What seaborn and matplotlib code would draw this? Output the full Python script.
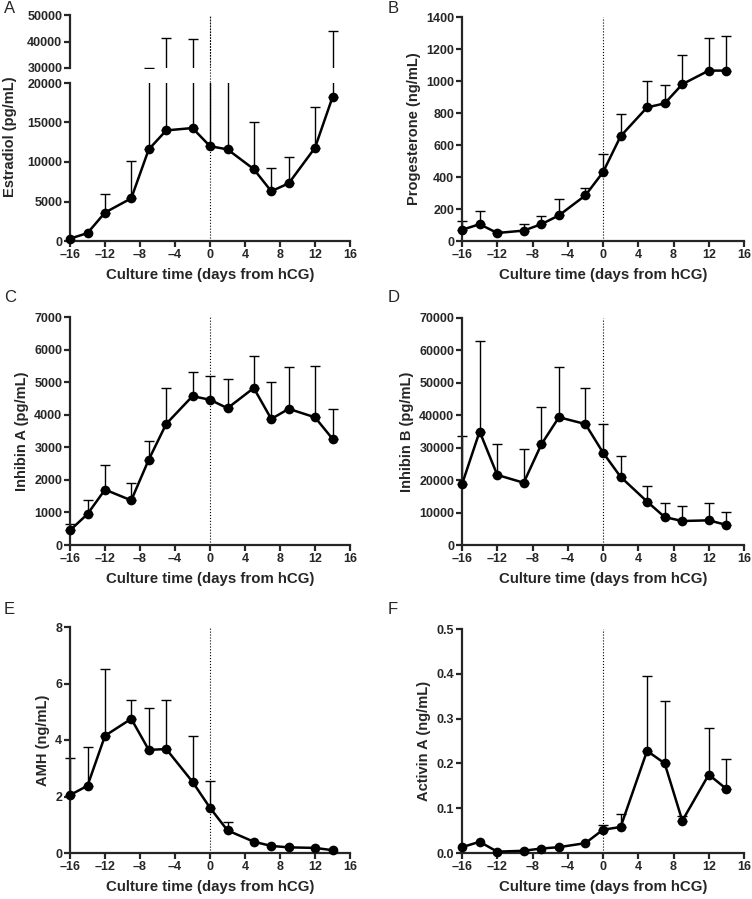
import numpy as np
import matplotlib
matplotlib.use("Agg")
import matplotlib.pyplot as plt
import seaborn as sns

# Culture days relative to hCG
days = [-16, -14, -12, -9, -7, -5, -2, 0, 2, 5, 7, 9, 12, 14]

# Mean values and top of the (upper-only) error bars; nan = no visible bar
estradiol = [300, 1000, 3600, 5400, 11600, 14000, 14300, 12000, 11600, 9100, 6300, 7300, 11800, 18200]
estradiol_top = [np.nan, np.nan, 6000, 10100, 30100, 41500, 41000, 25000, 25000, 15000, 9300, 10600, 17000, 43800]

progesterone = [70, 105, 50, 65, 105, 160, 285, 430, 655, 835, 860, 980, 1065, 1065]
progesterone_top = [125, 185, 65, 105, 155, 260, 330, 545, 795, 1000, 975, 1160, 1270, 1280]

inhibin_a = [450, 950, 1700, 1370, 2620, 3720, 4570, 4460, 4200, 4820, 3870, 4180, 3920, 3260]
inhibin_a_top = [650, 1370, 2470, 1900, 3180, 4830, 5300, 5200, 5100, 5790, 5010, 5480, 5500, 4170]

inhibin_b = [18700, 35000, 21600, 19200, 31000, 39400, 37300, 28500, 21000, 13400, 8600, 7400, 7600, 6200]
inhibin_b_top = [33500, 63000, 31200, 29700, 42700, 54800, 48400, 37400, 27500, 18300, 13100, 12000, 13000, 10200]

amh = [2.05, 2.38, 4.15, 4.75, 3.65, 3.68, 2.52, 1.6, 0.8, 0.4, 0.25, 0.2, 0.18, 0.1]
amh_top = [3.38, 3.76, 6.52, 5.42, 5.13, 5.42, 4.13, 2.55, 1.1, np.nan, np.nan, np.nan, np.nan, np.nan]

activin_a = [0.013, 0.025, 0.003, 0.005, 0.01, 0.013, 0.022, 0.052, 0.058, 0.228, 0.2, 0.072, 0.175, 0.143]
activin_a_top = [np.nan, np.nan, np.nan, np.nan, np.nan, np.nan, np.nan, 0.062, 0.088, 0.396, 0.34, 0.083, 0.278, 0.21]

xticks = [-16, -12, -8, -4, 0, 4, 8, 12, 16]
xlabel = "Culture time (days from hCG)"

sns.set_style("ticks")
plt.rcParams["font.family"] = ["Liberation Sans", "DejaVu Sans"]
plt.rcParams["font.weight"] = "bold"
plt.rcParams["axes.labelweight"] = "bold"
plt.rcParams["axes.unicode_minus"] = False

fig = plt.figure(figsize=(7.52, 8.99), dpi=100)
W, H = 752.0, 899.0


def make_ax(left, right, top, bottom):
    return fig.add_axes([left / W, 1 - bottom / H, (right - left) / W, (bottom - top) / H])


def style_ax(ax, show_x=True):
    sns.despine(ax=ax)
    ax.spines["left"].set_linewidth(1.6)
    ax.spines["bottom"].set_linewidth(1.6)
    ax.tick_params(width=1.6, length=4, labelsize=9, pad=1.5)
    if not show_x:
        ax.spines["bottom"].set_visible(False)
        ax.tick_params(axis="x", bottom=False, labelbottom=False)


def draw_errors(ax, mean, top, clip):
    mean = np.array(mean, float)
    top = np.array(top, float)
    ok = ~np.isnan(top)
    x = np.array(days, float)[ok]
    err = np.vstack([np.zeros(ok.sum()), top[ok] - mean[ok]])
    eb = ax.errorbar(x, mean[ok], yerr=err, fmt="none", ecolor="black",
                     elinewidth=1.0, capsize=3.5, capthick=1.0, zorder=2)
    for art in eb.lines[1] + eb.lines[2]:
        art.set_clip_on(clip)


def draw_line(ax, mean):
    sns.lineplot(x=days, y=mean, ax=ax, color="black", linewidth=1.8,
                 marker="o", markersize=7, markeredgewidth=0, zorder=3,
                 clip_on=False)


def finish_x(ax):
    ax.set_xlim(-16, 16)
    ax.set_xticks(xticks)
    ax.set_xticklabels([str(t).replace("-", "\u2013") for t in xticks])
    ax.set_xlabel(xlabel, fontsize=10.8, labelpad=5)


panels = [
    ("B", progesterone, progesterone_top, (0, 1400), np.arange(0, 1401, 200),
     "Progesterone (ng/mL)", (462, 744, 17, 241), None, 1),
    ("C", inhibin_a, inhibin_a_top, (0, 7000), np.arange(0, 7001, 1000),
     "Inhibin A (pg/mL)", (70, 350, 317, 545), None, 290),
    ("D", inhibin_b, inhibin_b_top, (0, 70000), np.arange(0, 70001, 10000),
     "Inhibin B (pg/mL)", (462, 744, 318, 545), None, 290),
    ("E", amh, amh_top, (0, 8), [0, 2, 4, 6, 8],
     "AMH (ng/mL)", (70, 350, 627, 853), None, 602),
    ("F", activin_a, activin_a_top, (0, 0.5), [0.0, 0.1, 0.2, 0.3, 0.4, 0.5],
     "Activin A (ng/mL)", (462, 744, 629, 853), "{:.1f}", 602),
]

# Panel A: broken y axis
ax_hi = make_ax(70, 350, 15, 68)
ax_lo = make_ax(70, 350, 83, 241)
draw_errors(ax_hi, estradiol, estradiol_top, clip=True)
ax_hi.set_ylim(30000, 50000)
ax_hi.set_yticks([30000, 40000, 50000])
ax_hi.set_xlim(-16, 16)
ax_hi.axvline(0, color="black", linestyle=":", linewidth=0.8, zorder=1)
style_ax(ax_hi, show_x=False)

draw_errors(ax_lo, estradiol, estradiol_top, clip=True)
draw_line(ax_lo, estradiol)
ax_lo.set_ylim(0, 20000)
ax_lo.set_yticks([0, 5000, 10000, 15000, 20000])
ax_lo.axvline(0, ymin=0, ymax=(241 - 15) / (241 - 83), color="black",
              linestyle=":", linewidth=0.8, zorder=1, clip_on=False)
finish_x(ax_lo)
ax_lo.set_ylabel("Estradiol (pg/mL)", fontsize=10.5)
ax_lo.yaxis.set_label_coords(-0.19, 0.66)
style_ax(ax_lo)
fig.text(4 / W, 1 - 1 / H, "A", fontsize=12, fontweight="normal", va="top", ha="left")

for letter, mean, top, ylim, yt, ylab, box, fmt, ly in panels:
    ax = make_ax(*box[:4])
    draw_errors(ax, mean, top, clip=False)
    draw_line(ax, mean)
    ax.axvline(0, color="black", linestyle=":", linewidth=0.8, zorder=1)
    ax.set_ylim(*ylim)
    ax.set_yticks(yt)
    if fmt:
        ax.set_yticklabels([fmt.format(v) for v in yt])
    finish_x(ax)
    ax.set_ylabel(ylab, fontsize=10.5)
    style_ax(ax)
    lx = 4 if box[0] < 200 else 388
    fig.text(lx / W, 1 - ly / H, letter, fontsize=12,
             fontweight="normal", va="top", ha="left")

fig.savefig("out.png", dpi=100)
